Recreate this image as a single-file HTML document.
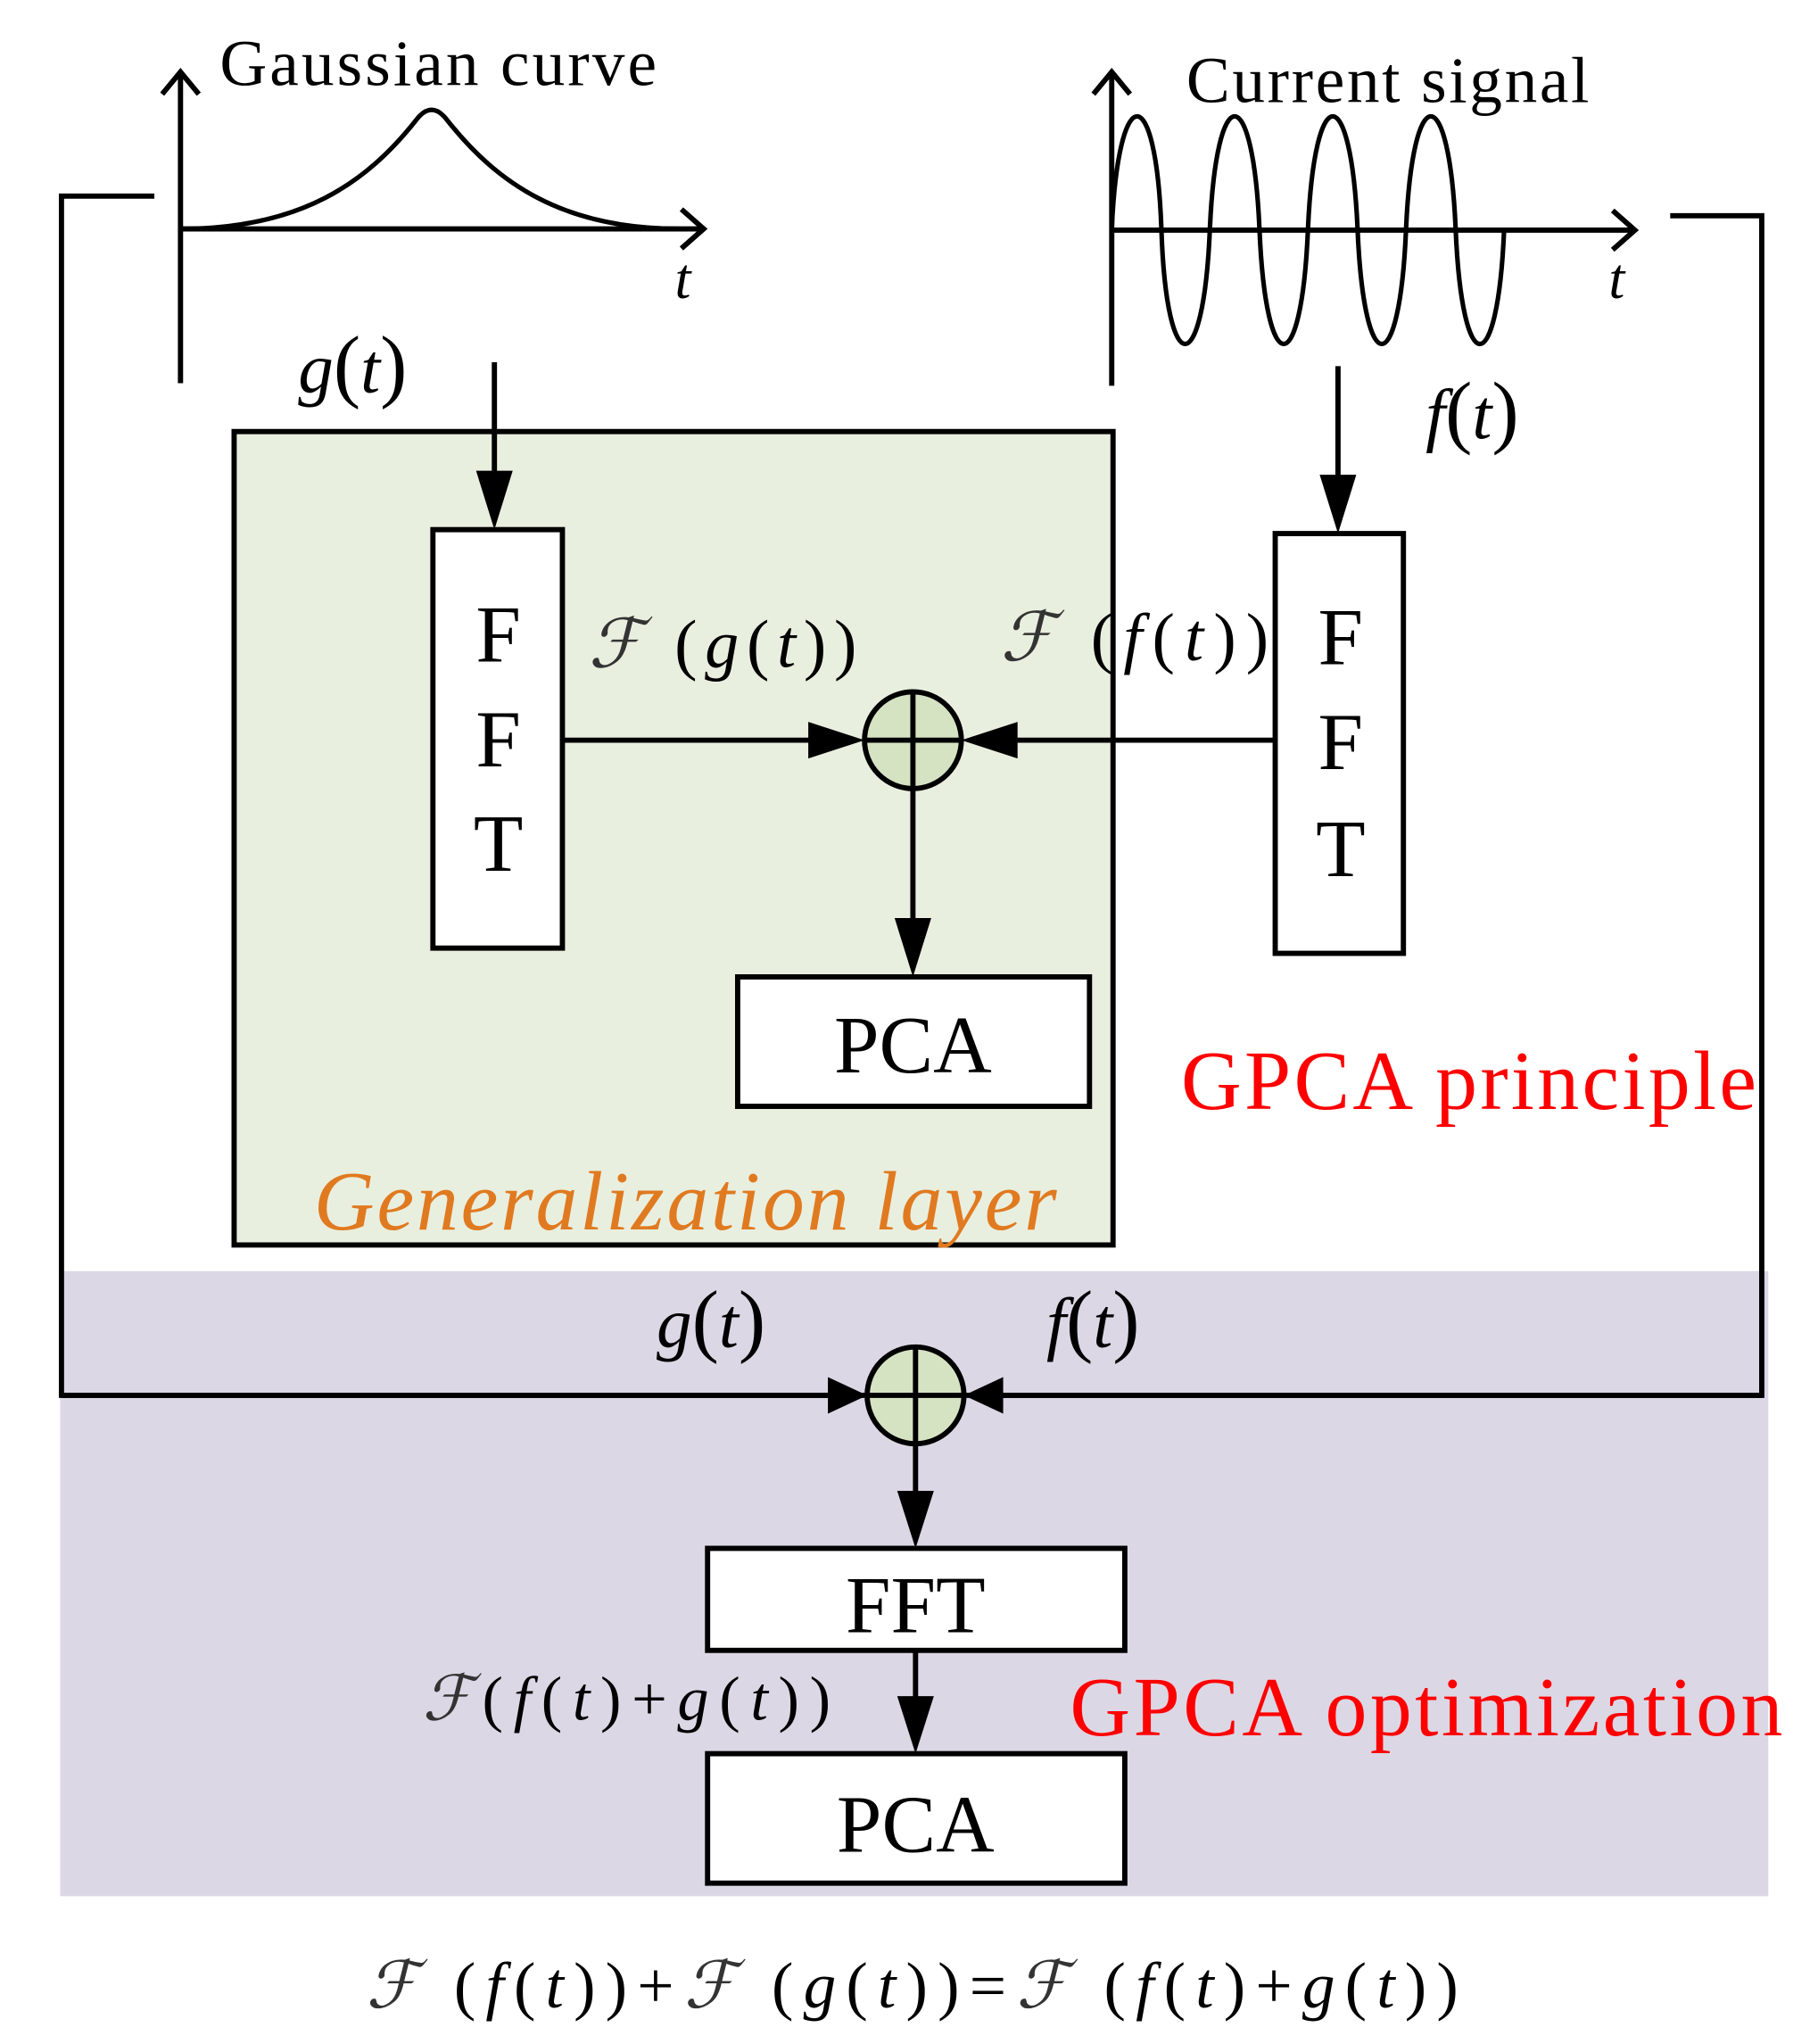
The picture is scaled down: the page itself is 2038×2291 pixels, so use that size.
<!DOCTYPE html>
<html><head><meta charset="utf-8"><style>html,body{margin:0;padding:0;background:#fff}svg{display:block}</style></head>
<body>
<svg width="2038" height="2291" viewBox="0 0 1390 1563" preserveAspectRatio="none" xmlns="http://www.w3.org/2000/svg" font-family="Liberation Serif, serif">
<rect x="46" y="972" width="1306" height="478" fill="#dcd7e5"/>
<rect x="179" y="330" width="672" height="622" fill="#e9efdf" stroke="#000" stroke-width="4"/>
<g stroke="#000" stroke-width="4" fill="none">
<polyline points="118,150 47,150 47,1067 1347,1067 1347,165 1277,165"/>
<line x1="138" y1="293" x2="138" y2="57"/><polyline points="124,72 138,55 152,72"/>
<line x1="138" y1="175" x2="536" y2="175"/><polyline points="521,160 538,175 521,190"/>
<path d="M138,175 C230,175 280,140 318,92 Q330,76 342,92 C380,140 430,175 520,175" stroke-width="3.5"/>
<line x1="850" y1="295" x2="850" y2="57"/><polyline points="836,72 850,55 864,72"/>
<line x1="850" y1="176" x2="1248" y2="176"/><polyline points="1233,161 1250,176 1233,191"/>
<path d="M850,176 C855,60 884,60 888,176 C892,292 920,292 925,176 C930,60 958,60 963,176 C968,292 995,292 1000,176 C1005,60 1033,60 1038,176 C1043,292 1070,292 1075,176 C1080,60 1108,60 1113,176 C1118,292 1145,292 1150,176" stroke-width="3.5"/>
<rect x="331" y="405" width="99" height="320" fill="#fff"/>
<rect x="975" y="408" width="98" height="321" fill="#fff"/>
<rect x="564" y="747" width="269" height="99" fill="#fff"/>
<rect x="541" y="1184" width="319" height="78" fill="#fff"/>
<rect x="541" y="1341" width="319" height="99" fill="#fff"/>
<line x1="378" y1="277" x2="378" y2="380"/>
<line x1="1023" y1="280" x2="1023" y2="383"/>
<line x1="430" y1="566" x2="630" y2="566"/>
<line x1="975" y1="566" x2="765" y2="566"/>
<line x1="698" y1="603" x2="698" y2="720"/>
<line x1="47" y1="1067" x2="640" y2="1067"/>
<line x1="1347" y1="1067" x2="760" y2="1067"/>
<line x1="700" y1="1104" x2="700" y2="1160"/>
<line x1="700" y1="1262" x2="700" y2="1315"/>
<circle cx="698" cy="566" r="37" fill="#d6e3c3"/>
<line x1="661" y1="566" x2="735" y2="566"/><line x1="698" y1="529" x2="698" y2="603"/>
<circle cx="700" cy="1067" r="37" fill="#d6e3c3"/>
<line x1="663" y1="1067" x2="737" y2="1067"/><line x1="700" y1="1030" x2="700" y2="1104"/>
</g>
<g fill="#000">
<polygon points="378,405 364,360 392,360"/>
<polygon points="1023,408 1009,363 1037,363"/>
<polygon points="661,566 618,552 618,580"/>
<polygon points="735,566 778,552 778,580"/>
<polygon points="698,747 684,702 712,702"/>
<polygon points="663,1067 633,1053 633,1081"/>
<polygon points="737,1067 767,1053 767,1081"/>
<polygon points="700,1184 686,1140 714,1140"/>
<polygon points="700,1341 686,1297 714,1297"/>
</g>
<g fill="#000">
<text x="168" y="65" font-size="50" textLength="334">Gaussian curve</text>
<text x="907" y="78" font-size="50" textLength="308">Current signal</text>
<text x="516" y="228" font-size="44" font-style="italic">t</text>
<text x="1230" y="228" font-size="44" font-style="italic">t</text>
<text x="228" y="300" font-size="54" font-style="italic">g<tspan font-style="normal" font-size="62">(</tspan>t<tspan font-style="normal" font-size="62">)</tspan></text>
<text x="1090" y="335" font-size="54" font-style="italic">f<tspan font-style="normal" font-size="62">(</tspan>t<tspan font-style="normal" font-size="62">)</tspan></text>
<g font-size="62" text-anchor="middle">
<text x="381" y="506">F</text><text x="381" y="586">F</text><text x="381" y="666">T</text>
<text x="1025" y="508">F</text><text x="1025" y="588">F</text><text x="1025" y="670">T</text>
<text x="698" y="820">PCA</text>
<text x="700" y="1248">FFT</text>
<text x="700" y="1416">PCA</text>
</g>
<text x="450" y="510" font-size="52" font-style="italic" textLength="205"><tspan fill="#333">ℱ</tspan> <tspan font-style="normal">(</tspan>g<tspan font-style="normal">(</tspan>t<tspan font-style="normal">))</tspan></text>
<text x="765" y="505" font-size="52" font-style="italic" textLength="205"><tspan fill="#333">ℱ</tspan> <tspan font-style="normal">(</tspan>f<tspan font-style="normal">(</tspan>t<tspan font-style="normal">))</tspan></text>
<text x="502" y="1030" font-size="54" font-style="italic">g<tspan font-style="normal" font-size="62">(</tspan>t<tspan font-style="normal" font-size="62">)</tspan></text>
<text x="800" y="1030" font-size="54" font-style="italic">f<tspan font-style="normal" font-size="62">(</tspan>t<tspan font-style="normal" font-size="62">)</tspan></text>
<text x="323" y="1315" font-size="48" font-style="italic" textLength="312"><tspan fill="#333">ℱ</tspan><tspan font-style="normal">(</tspan>f<tspan font-style="normal">(</tspan>t<tspan font-style="normal">)+</tspan>g<tspan font-style="normal">(</tspan>t<tspan font-style="normal">))</tspan></text>
<text x="280" y="1535" font-size="50" font-style="italic" textLength="835"><tspan fill="#333">ℱ</tspan> <tspan font-style="normal">(</tspan>f<tspan font-style="normal">(</tspan>t<tspan font-style="normal">))+</tspan><tspan fill="#333">ℱ</tspan> <tspan font-style="normal">(</tspan>g<tspan font-style="normal">(</tspan>t<tspan font-style="normal">))=</tspan><tspan fill="#333">ℱ</tspan> <tspan font-style="normal">(</tspan>f<tspan font-style="normal">(</tspan>t<tspan font-style="normal">)+</tspan>g<tspan font-style="normal">(</tspan>t<tspan font-style="normal">))</tspan></text>
</g>
<text x="903" y="848" font-size="64" fill="#f00" textLength="440">GPCA principle</text>
<text x="818" y="1327" font-size="64" fill="#f00" textLength="545">GPCA optimization</text>
<text x="240" y="940" font-size="64" font-style="italic" fill="#e07a20" textLength="568">Generalization layer</text>
</svg>
</body></html>
